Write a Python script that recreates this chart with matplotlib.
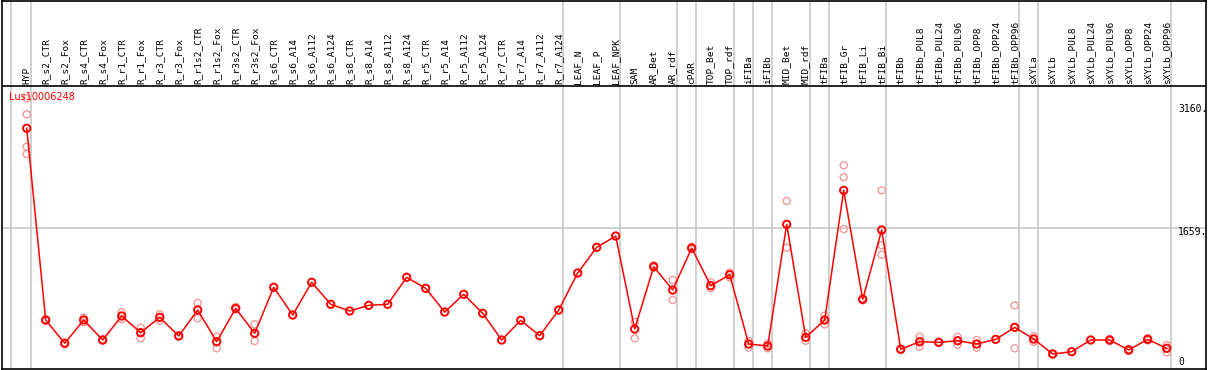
import numpy as np
import matplotlib
matplotlib.use('Agg')
import matplotlib.pyplot as plt

gene = 'Lus10006248'

samples = ['HYP',
           'R_s2_CTR', 'R_s2_Fox', 'R_s4_CTR', 'R_s4_Fox', 'R_r1_CTR', 'R_r1_Fox',
           'R_r3_CTR', 'R_r3_Fox', 'R_r1s2_CTR', 'R_r1s2_Fox', 'R_r3s2_CTR', 'R_r3s2_Fox',
           'R_s6_CTR', 'R_s6_A14', 'R_s6_A112', 'R_s6_A124',
           'R_s8_CTR', 'R_s8_A14', 'R_s8_A112', 'R_s8_A124',
           'R_r5_CTR', 'R_r5_A14', 'R_r5_A112', 'R_r5_A124',
           'R_r7_CTR', 'R_r7_A14', 'R_r7_A112', 'R_r7_A124',
           'LEAF_N', 'LEAF_P', 'LEAF_NPK',
           'SAM', 'AR_Bet', 'AR_rdf',
           'cPAR',
           'TOP_Bet', 'TOP_rdf',
           'iFIBa',
           'iFIBb',
           'MID_Bet', 'MID_rdf',
           'tFIBa',
           'tFIB_Gr', 'tFIB_Li', 'tFIB_Bi',
           'tFIBb', 'tFIBb_PUL8', 'tFIBb_PUL24', 'tFIBb_PUL96',
           'tFIBb_OPP8', 'tFIBb_OPP24', 'tFIBb_OPP96',
           'sXYLa',
           'sXYLb', 'sXYLb_PUL8', 'sXYLb_PUL24', 'sXYLb_PUL96',
           'sXYLb_OPP8', 'sXYLb_OPP24', 'sXYLb_OPP96']

# number of samples in each group (grey separators between groups)
group_sizes = [1, 28, 3, 3, 1, 2, 1, 1, 2, 1, 3, 7, 1, 7]

means = [2900,
         521, 232, 521, 273, 571, 364, 554, 323, 645, 252, 666, 356,
         927, 583, 989, 716,
         633, 703, 716, 1051,
         914, 620, 840, 604,
         273, 517, 327, 645,
         1104, 1423, 1563,
         409, 1183, 893,
         1414,
         947, 1083,
         223,
         199,
         1708, 306,
         521,
         2130, 778, 1638,
         158, 252, 244, 264, 223, 281, 430,
         285,
         99, 128, 273, 273, 149, 281, 170]

reps = [[3272, 3073, 2672, 2581],
        [515, 528], [225, 240], [550, 492], [265, 280], [617, 533], [426, 294],
        [592, 513], [318, 328], [732, 542], [314, 170], [650, 680], [467, 260],
        [], [], [], [],
        [], [], [], [],
        [], [], [], [],
        [], [], [], [],
        [], [], [],
        [500, 294], [1170, 1200], [1017, 769],
        [1400, 1430],
        [989, 914], [1110, 1050],
        [260, 180],
        [230, 170],
        [1998, 1418], [356, 264],
        [575, 467],
        [2441, 2292, 1650], [790, 765], [2130, 1448, 1331],
        [150, 165], [314, 190], [240, 250], [314, 215], [273, 178], [], [703, 170],
        [320, 250],
        [95, 105], [], [], [285, 260], [160, 140], [295, 268], [211, 120]]

ytick_vals = [3160, 1659, 0]
ytick_labels = ['3160.', '1659.', '0']

W, H = 1209, 370
# pixel layout of the frame and the scale
px0, pxstep = 26.7, 19.0        # x pixel of first sample, spacing
zero_px, upp = 362.0, 12.408    # y pixel of value 0, units per pixel
L, R, T, B = 1.5, 1206.0, 0.5, 369.0

fig = plt.figure(figsize=(W / 100, H / 100), dpi=100)
ax = fig.add_axes([L / W, (H - B) / H, (R - L) / W, (B - T) / H])
ax.set_xlim((L - px0) / pxstep, (R - px0) / pxstep)
ax.set_ylim((zero_px - B) * upp, (zero_px - T) * upp)
for s in ax.spines.values():
    s.set_color('black')
    s.set_linewidth(1.2)
ax.set_xticks([])
ax.set_yticks([])

grey = '#c4c4c4'
# group separators
bounds = [-0.84] + list(np.cumsum(group_sizes) - 1 + 0.21)
for b in bounds:
    ax.axvline(b, color=grey, lw=1.1, zorder=1)
ax.axhline(1659, color=grey, lw=1.1, zorder=1)

# header separator line
hdr = (zero_px - 85.5) * upp
ax.axhline(hdr, color='black', lw=1.2, zorder=2)

x = np.arange(len(samples))
for i, name in enumerate(samples):
    ax.text(i, (zero_px - 83.5) * upp, name, rotation=90, ha='center', va='bottom',
            fontsize=6.8, family='DejaVu Sans Mono', color='black')

rx = [i for i, r in enumerate(reps) for v in r]
ry = [v for r in reps for v in r]
ax.scatter(rx, ry, s=26, facecolors='none', edgecolors='#f09a9a', linewidths=1.0, zorder=3)
ax.plot(x, means, color='#ff0000', lw=1.1, zorder=4)
ax.scatter(x, means, s=28, facecolors='none', edgecolors='#ff0000', linewidths=1.4, zorder=5)

for v, lab in zip(ytick_vals, ytick_labels):
    yp = {3160: 108.5, 1659: 232.0, 0: 362.0}[v]
    fig.text(1178 / W, 1 - yp / H, lab, ha='left', va='center', fontsize=7,
             family='DejaVu Sans Mono', color='black')

fig.text(9 / W, 1 - 97.5 / H, gene, ha='left', va='center', fontsize=7, color='#ff0000')

fig.savefig('out.png', dpi=100)
